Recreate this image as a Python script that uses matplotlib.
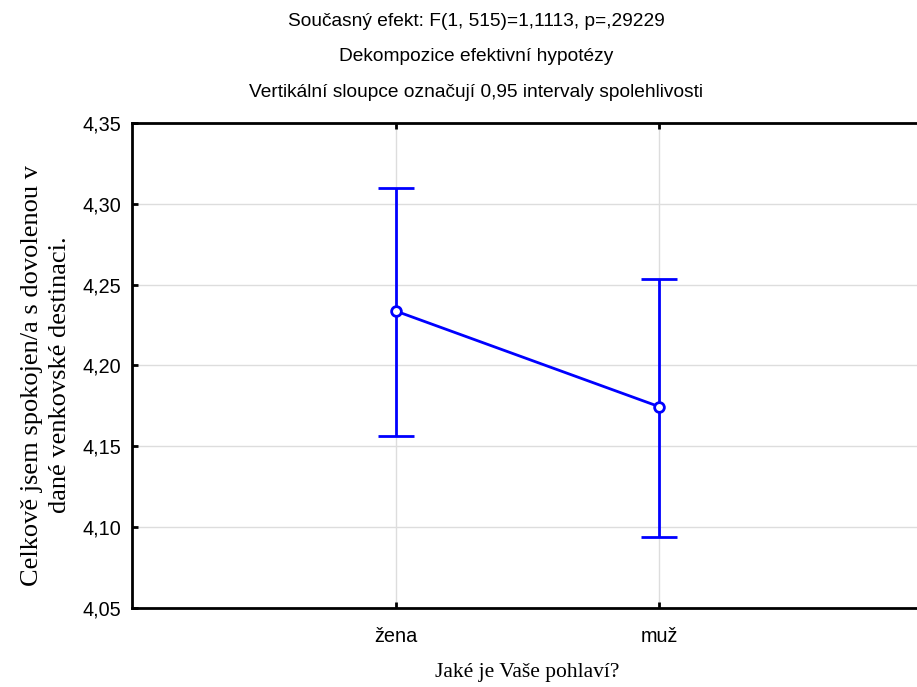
import matplotlib
matplotlib.use('Agg')
import matplotlib.pyplot as plt
from matplotlib.ticker import FuncFormatter

categories = ['žena', 'muž']
means = [4.2337, 4.1745]
ci_low = [4.1565, 4.0940]
ci_high = [4.3098, 4.2538]
y_ticks = [4.05, 4.10, 4.15, 4.20, 4.25, 4.30, 4.35]

titles = ['Současný efekt: F(1, 515)=1,1113, p=,29229',
          'Dekompozice efektivní hypotézy',
          'Vertikální sloupce označují 0,95 intervaly spolehlivosti']

fig = plt.figure(figsize=(9.17, 6.87), dpi=100)
ax = fig.add_axes([0.144, 0.115, 0.8625, 0.706])

x = list(range(len(categories)))
yerr = [[m - lo for m, lo in zip(means, ci_low)],
        [hi - m for m, hi in zip(means, ci_high)]]

ax.errorbar(x, means, yerr=yerr, color='#0000ff', lw=2, capsize=13,
            capthick=2, marker='o', markersize=7, markerfacecolor='white',
            markeredgecolor='#0000ff', markeredgewidth=2, zorder=3)

ax.set_xlim(-1, 2)
ax.set_ylim(4.05, 4.35)
ax.set_xticks(x)
ax.set_xticklabels(categories, fontsize=14.3, family='Liberation Sans')
ax.set_yticks(y_ticks)
ax.yaxis.set_major_formatter(FuncFormatter(lambda v, p: f'{v:.2f}'.replace('.', ',')))
for lbl in ax.get_yticklabels():
    lbl.set_family('Liberation Sans')
    lbl.set_fontsize(14.3)

ax.grid(True, color='#dddddd', lw=1)
ax.set_axisbelow(True)
for s in ax.spines.values():
    s.set_linewidth(2)
ax.tick_params(axis='y', direction='in', length=4, width=2, pad=8, right=True,
               labelright=False)
ax.tick_params(axis='x', direction='in', length=4, width=2, pad=14, top=True,
               labeltop=False)

ax.set_xlabel('Jaké je Vaše pohlaví?', family='Liberation Serif', fontsize=15.5,
              labelpad=12)
ax.set_ylabel('Celkově jsem spokojen/a s dovolenou v\ndané venkovské destinaci.',
              family='Liberation Serif', fontsize=19, linespacing=1.35)
ax.yaxis.set_label_coords(-0.077, 0.48)

for i, t in enumerate(titles):
    fig.text(0.519, [0.968, 0.918, 0.865][i], t, ha='center', va='center',
             family='Liberation Sans', fontsize=13.8)

fig.savefig('out.png', dpi=100)
